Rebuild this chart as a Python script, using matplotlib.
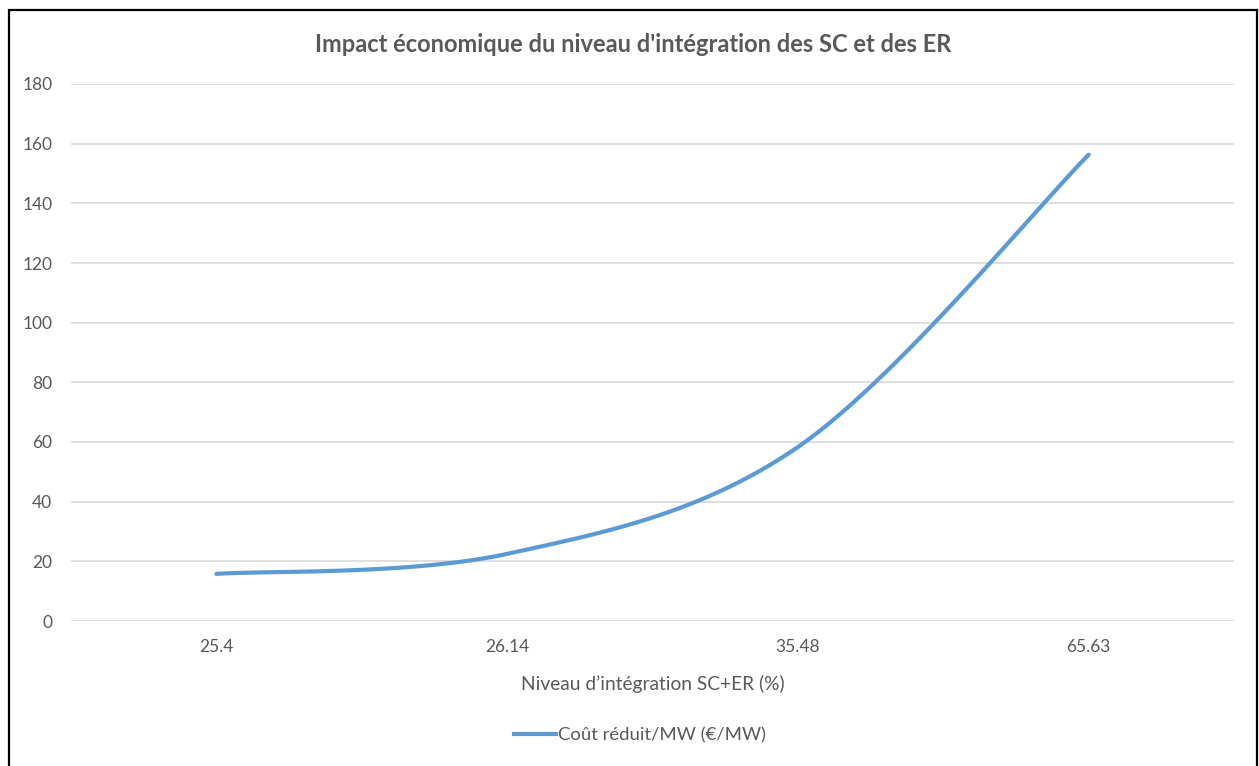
"""Impact économique du niveau d'intégration des SC et des ER (courbe lissée)."""

import matplotlib

matplotlib.use("Agg")

import matplotlib.pyplot as plt
import numpy as np
from matplotlib.lines import Line2D
from matplotlib.patches import Rectangle

categories = ["25.4", "26.14", "35.48", "65.63"]
cost_per_mw = [15.8, 22.5, 58.3, 156.3]
y_ticks = [0, 20, 40, 60, 80, 100, 120, 140, 160, 180]

title = "Impact économique du niveau d'intégration des SC et des ER"
x_label = "Niveau d\u2019intégration SC+ER (%)"
series_label = "Coût réduit/MW (€/MW)"

LINE_COLOR = "#5b9bd5"
TEXT_COLOR = "#595959"
GRID_COLOR = "#d9d9d9"

plt.rcParams["font.family"] = ["Lato", "DejaVu Sans"]


def smooth_curve(xs, ys, steps=60):
    """Excel-like smoothed line: Catmull-Rom segments as cubic Bezier."""
    pts = np.column_stack([xs, ys]).astype(float)
    padded = np.vstack([pts[0], pts, pts[-1]])
    t = np.linspace(0, 1, steps)[:, None]
    out = []
    for i in range(len(pts) - 1):
        p0, p1, p2, p3 = padded[i], padded[i + 1], padded[i + 2], padded[i + 3]
        c1 = p1 + (p2 - p0) / 6
        c2 = p2 - (p3 - p1) / 6
        seg = ((1 - t) ** 3) * p1 + 3 * ((1 - t) ** 2) * t * c1 + 3 * (1 - t) * t**2 * c2 + t**3 * p2
        out.append(seg if i == 0 else seg[1:])
    curve = np.vstack(out)
    return curve[:, 0], curve[:, 1]


W, H = 1259, 766
fig = plt.figure(figsize=(W / 100, H / 100), dpi=100)
ax = fig.add_axes([71 / W, 1 - 621 / H, (1234 - 71) / W, (621 - 84) / H])

positions = np.arange(len(categories))
sx, sy = smooth_curve(positions, cost_per_mw)
ax.plot(sx, sy, color=LINE_COLOR, linewidth=3.0, solid_capstyle="round")

ax.set_xlim(-0.5, len(categories) - 0.5)
ax.set_ylim(y_ticks[0], y_ticks[-1])
ax.set_xticks(positions, categories)
ax.set_yticks(y_ticks)
ax.tick_params(length=0, labelsize=12.5, labelcolor=TEXT_COLOR)
ax.tick_params(axis="x", pad=13)
ax.tick_params(axis="y", pad=13.5)
ax.grid(axis="y", color=GRID_COLOR, linewidth=1.2)
ax.set_axisbelow(True)
for spine in ax.spines.values():
    spine.set_visible(False)

ax.set_xlabel(x_label, fontsize=13.8, color=TEXT_COLOR, labelpad=14)
fig.text(633 / W, 1 - 44 / H, title, ha="center", va="center",
         fontsize=17, fontweight="bold", color=TEXT_COLOR)

handle = Line2D([], [], color=LINE_COLOR, linewidth=3.0)
fig.legend([handle], [series_label], loc="center", bbox_to_anchor=(640 / W, 1 - 735 / H),
           frameon=False, fontsize=13.3, labelcolor=TEXT_COLOR, handlelength=2.25,
           handletextpad=0.1)

fig.patches.append(Rectangle((9 / W, -0.01), (1257 - 9) / W, 1 - 10 / H + 0.01,
                             transform=fig.transFigure, fill=False, edgecolor="black",
                             linewidth=1.6, clip_on=False))

fig.savefig("out.png", dpi=100, facecolor="white")
